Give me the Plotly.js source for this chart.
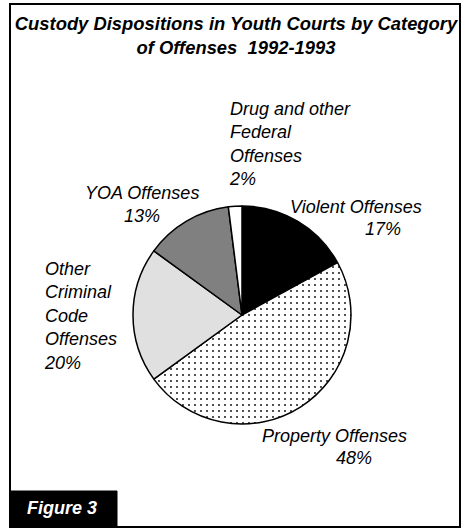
<!DOCTYPE html>
<html>
<head>
<meta charset="utf-8">
<script src="https://cdn.plot.ly/plotly-3.0.1.min.js"></script>
<style>html,body{margin:0;padding:0;background:#fff;}#chart{width:466px;height:529px;}</style>
</head>
<body>
<div id="chart"></div>
<script>
// ---- data ----
var categories = ['Violent Offenses', 'Property Offenses', 'Other Criminal Code Offenses', 'YOA Offenses', 'Drug and other Federal Offenses'];
var shares = [17, 48, 20, 13, 2];
var labelLines = ['Violent Offenses', 'Property Offenses', 'Other<br>Criminal<br>Code<br>Offenses', 'YOA Offenses', 'Drug and other<br>Federal<br>Offenses'];
var titleText = 'Custody Dispositions in Youth Courts by Category<br>of Offenses\u00a0 1992-1993';
var figureTag = 'Figure 3';

// ---- styles ----
var W = 466, H = 529;
var sliceColors = ['#000000', '#ffffff', '#e0e0e0', '#808080', '#ffffff'];
var sliceShapes = ['', '.', '', '', ''];
function px(x) { return x / W; }
function py(y) { return 1 - y / H; }

// pie geometry (pixels): center & radius
var cx = 242, cy = 315, r = 109;

// label placement (pixels) : [x, y, xanchor]
var namePos = [
  [288, 207, 'left'], [260, 436, 'left'], [42, 316, 'left'], [141.5, 193, 'center'], [227, 144, 'left']
];
var pctPos = [
  [363, 229, 'left'], [334, 458, 'left'], null, [142, 216, 'center'], null
];

var labelFont = {family: 'Liberation Sans, Arial, sans-serif', size: 18, color: '#000', style: 'italic'};

var annotations = [];
for (var i = 0; i < categories.length; i++) {
  var name = labelLines[i];
  var pct = shares[i] + '%';
  if (pctPos[i] === null) {
    name = name + '<br>' + pct;
  } else {
    annotations.push({
      text: pct, xref: 'paper', yref: 'paper', x: px(pctPos[i][0]), y: py(pctPos[i][1]),
      xanchor: pctPos[i][2], yanchor: 'middle', showarrow: false, font: labelFont, align: 'left'
    });
  }
  annotations.push({
    text: name, xref: 'paper', yref: 'paper', x: px(namePos[i][0]), y: py(namePos[i][1]),
    xanchor: namePos[i][2], yanchor: 'middle', showarrow: false, font: labelFont, align: 'left'
  });
}
annotations.push({
  text: figureTag, xref: 'paper', yref: 'paper', x: px(25), y: py(508),
  xanchor: 'left', yanchor: 'middle', showarrow: false,
  font: {family: 'Liberation Sans, Arial, sans-serif', size: 18, color: '#fff', style: 'italic', weight: 'bold'}
});

var trace = {
  type: 'pie',
  labels: categories,
  values: shares,
  sort: false,
  direction: 'clockwise',
  rotation: 0,
  textinfo: 'none',
  hoverinfo: 'label+percent',
  showlegend: false,
  domain: {x: [px(cx - r), px(cx + r)], y: [py(cy + r), py(cy - r)]},
  marker: {
    colors: sliceColors,
    line: {color: '#000', width: 1.5},
    pattern: {shape: sliceShapes, fgcolor: '#000', bgcolor: '#fff', size: 6, solidity: 0.07, fillmode: 'replace'}
  }
};

var layout = {
  width: W, height: H,
  margin: {l: 0, r: 0, t: 0, b: 0},
  paper_bgcolor: '#fff',
  title: {
    text: titleText, x: px(236), xanchor: 'center', xref: 'paper',
    y: py(30), yanchor: 'middle', yref: 'container',
    font: {family: 'Liberation Sans, Arial, sans-serif', size: 18.4, color: '#000', style: 'italic', weight: 'bold'}
  },
  shapes: [
    {type: 'rect', xref: 'paper', yref: 'paper', x0: px(10), x1: px(460), y0: py(527), y1: py(4),
     line: {color: '#000', width: 2}, fillcolor: 'rgba(0,0,0,0)'},
    {type: 'rect', xref: 'paper', yref: 'paper', x0: px(10), x1: px(117), y0: py(527), y1: py(491),
     line: {color: '#000', width: 1}, fillcolor: '#000'}
  ],
  annotations: annotations
};

Plotly.newPlot('chart', [trace], layout, {displayModeBar: false, staticPlot: true});
</script>
</body>
</html>
